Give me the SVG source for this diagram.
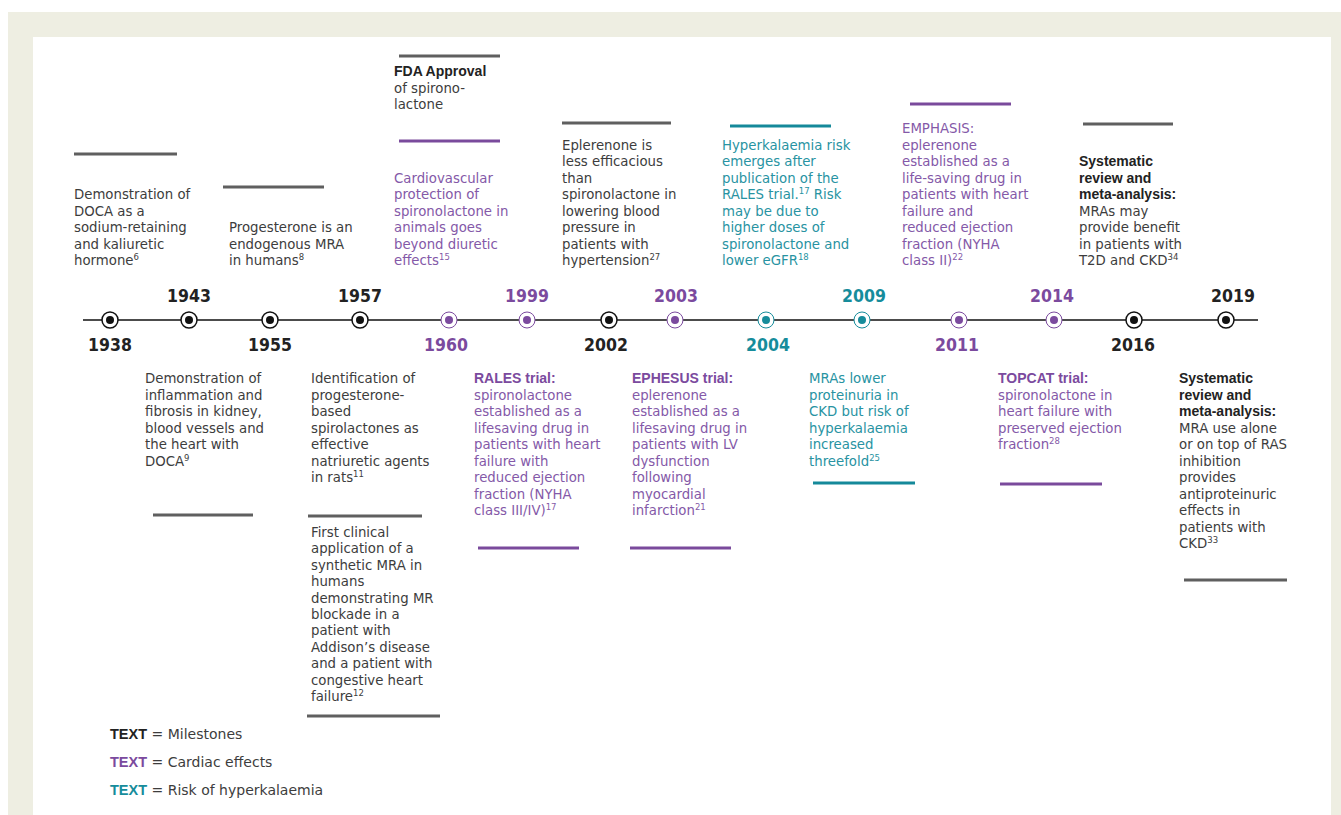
<svg xmlns="http://www.w3.org/2000/svg" width="1341" height="815" viewBox="0 0 1341 815">
<style>
.tx{font-family:"DejaVu Sans","Noto Sans",sans-serif;font-size:13.3px}
.g{fill:#3d3d3d}.p{fill:#8459a8}.c{fill:#2893a2}
.b{font-family:"Liberation Sans",Arial,sans-serif;font-weight:bold;font-size:14px}
.s{font-size:8.5px}
.yr{font-family:"DejaVu Sans Condensed","DejaVu Sans",sans-serif;font-stretch:condensed;font-weight:bold;font-size:17.5px;text-anchor:middle}
.yk{fill:#222}.yp{fill:#7b4a9e}.yc{fill:#168c9b}
.bar{stroke-width:3;fill:none}
.bg{stroke:#5f5f5f}.bp{stroke:#7a4a9c}.bc{stroke:#15899a}
.rk{fill:#fff;stroke:#111;stroke-width:1.5}.rp{fill:#fff;stroke:#7b4a9e;stroke-width:1}.rc{fill:#fff;stroke:#168c9b;stroke-width:1}
.dk{fill:#111}.dp{fill:#7b4a9e}.dc{fill:#168c9b}
.lg{font-family:"DejaVu Sans",sans-serif;font-size:14px;fill:#3d3d3d}
.lb{font-family:"Liberation Sans",Arial,sans-serif;font-weight:bold;font-size:14.5px}
</style>
<rect x="0" y="0" width="1341" height="815" fill="#fff"/>
<rect x="8" y="12" width="1333" height="803" fill="#eeeee2"/>
<rect x="33" y="37" width="1298" height="778" fill="#fff"/>

<g id="connectors">
<line x1="83" y1="320" x2="1258" y2="320" stroke="#111" stroke-width="1.5"/>
</g>

<g id="n1938"><circle class="rk" cx="110" cy="320" r="8"/><circle class="dk" cx="110" cy="320" r="4"/><text class="yr yk" x="110" y="351">1938</text></g>
<g id="n1943"><circle class="rk" cx="189" cy="320" r="8"/><circle class="dk" cx="189" cy="320" r="4"/><text class="yr yk" x="189" y="302">1943</text></g>
<g id="n1955"><circle class="rk" cx="270" cy="320" r="8"/><circle class="dk" cx="270" cy="320" r="4"/><text class="yr yk" x="270" y="351">1955</text></g>
<g id="n1957"><circle class="rk" cx="360" cy="320" r="8"/><circle class="dk" cx="360" cy="320" r="4"/><text class="yr yk" x="360" y="302">1957</text></g>
<g id="n1960"><circle class="rp" cx="449" cy="320" r="8"/><circle class="dp" cx="449" cy="320" r="4"/><text class="yr yp" x="446" y="351">1960</text></g>
<g id="n1999"><circle class="rp" cx="527" cy="320" r="8"/><circle class="dp" cx="527" cy="320" r="4"/><text class="yr yp" x="527" y="302">1999</text></g>
<g id="n2002"><circle class="rk" cx="609" cy="320" r="8"/><circle class="dk" cx="609" cy="320" r="4"/><text class="yr yk" x="606" y="351">2002</text></g>
<g id="n2003"><circle class="rp" cx="675" cy="320" r="8"/><circle class="dp" cx="675" cy="320" r="4"/><text class="yr yp" x="676" y="302">2003</text></g>
<g id="n2004"><circle class="rc" cx="766" cy="320" r="8"/><circle class="dc" cx="766" cy="320" r="4"/><text class="yr yc" x="768" y="351">2004</text></g>
<g id="n2009"><circle class="rc" cx="862" cy="320" r="8"/><circle class="dc" cx="862" cy="320" r="4"/><text class="yr yc" x="864" y="302">2009</text></g>
<g id="n2011"><circle class="rp" cx="959" cy="320" r="8"/><circle class="dp" cx="959" cy="320" r="4"/><text class="yr yp" x="957" y="351">2011</text></g>
<g id="n2014"><circle class="rp" cx="1054" cy="320" r="8"/><circle class="dp" cx="1054" cy="320" r="4"/><text class="yr yp" x="1052" y="302">2014</text></g>
<g id="n2016"><circle class="rk" cx="1134" cy="320" r="8"/><circle class="dk" cx="1134" cy="320" r="4"/><text class="yr yk" x="1133" y="351">2016</text></g>
<g id="n2019"><circle class="rk" cx="1226" cy="320" r="8"/><circle class="dk" cx="1226" cy="320" r="4"/><text class="yr yk" x="1233" y="302">2019</text></g>

<g id="e1938">
<line class="bar bg" x1="74" y1="154" x2="177" y2="154"/>
<text class="tx g"><tspan x="74" y="199">Demonstration of</tspan><tspan x="74" y="215.5">DOCA as a</tspan><tspan x="74" y="232">sodium-retaining</tspan><tspan x="74" y="248.5">and kaliuretic</tspan><tspan x="74" y="265">hormone<tspan class="s" dy="-5">6</tspan></tspan></text>
</g>
<g id="e1943">
<line class="bar bg" x1="153" y1="515" x2="253" y2="515"/>
<text class="tx g"><tspan x="145" y="383">Demonstration of</tspan><tspan x="145" y="399.5">inflammation and</tspan><tspan x="145" y="416">fibrosis in kidney,</tspan><tspan x="145" y="432.5">blood vessels and</tspan><tspan x="145" y="449">the heart with</tspan><tspan x="145" y="465.5">DOCA<tspan class="s" dy="-5">9</tspan></tspan></text>
</g>
<g id="e1955">
<line class="bar bg" x1="223" y1="187" x2="324" y2="187"/>
<text class="tx g"><tspan x="229" y="232">Progesterone is an</tspan><tspan x="229" y="248.5">endogenous MRA</tspan><tspan x="229" y="265">in humans<tspan class="s" dy="-5">8</tspan></tspan></text>
</g>
<g id="e1957a">
<text class="tx g"><tspan x="311" y="383">Identification of</tspan><tspan x="311" y="399.5">progesterone-</tspan><tspan x="311" y="416">based</tspan><tspan x="311" y="432.5">spirolactones as</tspan><tspan x="311" y="449">effective</tspan><tspan x="311" y="465.5">natriuretic agents</tspan><tspan x="311" y="482">in rats<tspan class="s" dy="-5">11</tspan></tspan></text>
<line class="bar bg" x1="308" y1="516" x2="422" y2="516"/>
</g>
<g id="e1957b">
<text class="tx g"><tspan x="311" y="537">First clinical</tspan><tspan x="311" y="553.4">application of a</tspan><tspan x="311" y="569.8">synthetic MRA in</tspan><tspan x="311" y="586.2">humans</tspan><tspan x="311" y="602.6">demonstrating MR</tspan><tspan x="311" y="619">blockade in a</tspan><tspan x="311" y="635.4">patient with</tspan><tspan x="311" y="651.8">Addison’s disease</tspan><tspan x="311" y="668.2">and a patient with</tspan><tspan x="311" y="684.6">congestive heart</tspan><tspan x="311" y="701">failure<tspan class="s" dy="-5">12</tspan></tspan></text>
<line class="bar bg" x1="307" y1="716" x2="440" y2="716"/>
</g>
<g id="e1960a">
<line class="bar bg" x1="399" y1="56" x2="500" y2="56"/>
<text class="tx g"><tspan x="394" y="76" class="b" style="fill:#222">FDA Approval</tspan><tspan x="394" y="92.5">of spirono-</tspan><tspan x="394" y="109">lactone</tspan></text>
</g>
<g id="e1960b">
<line class="bar bp" x1="399" y1="141" x2="500" y2="141"/>
<text class="tx p"><tspan x="394" y="182.5">Cardiovascular</tspan><tspan x="394" y="199">protection of</tspan><tspan x="394" y="215.5">spironolactone in</tspan><tspan x="394" y="232">animals goes</tspan><tspan x="394" y="248.5">beyond diuretic</tspan><tspan x="394" y="265">effects<tspan class="s" dy="-5">15</tspan></tspan></text>
</g>
<g id="e1999">
<text class="tx p"><tspan x="474" y="383" class="b" style="fill:#7b4a9e">RALES trial:</tspan><tspan x="474" y="399.5">spironolactone</tspan><tspan x="474" y="416">established as a</tspan><tspan x="474" y="432.5">lifesaving drug in</tspan><tspan x="474" y="449">patients with heart</tspan><tspan x="474" y="465.5">failure with</tspan><tspan x="474" y="482">reduced ejection</tspan><tspan x="474" y="498.5">fraction (NYHA</tspan><tspan x="474" y="515">class III/IV)<tspan class="s" dy="-5">17</tspan></tspan></text>
<line class="bar bp" x1="478" y1="548" x2="579" y2="548"/>
</g>
<g id="e2002">
<line class="bar bg" x1="562" y1="123" x2="671" y2="123"/>
<text class="tx g"><tspan x="562" y="149.5">Eplerenone is</tspan><tspan x="562" y="166">less efficacious</tspan><tspan x="562" y="182.5">than</tspan><tspan x="562" y="199">spironolactone in</tspan><tspan x="562" y="215.5">lowering blood</tspan><tspan x="562" y="232">pressure in</tspan><tspan x="562" y="248.5">patients with</tspan><tspan x="562" y="265">hypertension<tspan class="s" dy="-5">27</tspan></tspan></text>
</g>
<g id="e2003">
<text class="tx p"><tspan x="632" y="383" class="b" style="fill:#7b4a9e">EPHESUS trial:</tspan><tspan x="632" y="399.5">eplerenone</tspan><tspan x="632" y="416">established as a</tspan><tspan x="632" y="432.5">lifesaving drug in</tspan><tspan x="632" y="449">patients with LV</tspan><tspan x="632" y="465.5">dysfunction</tspan><tspan x="632" y="482">following</tspan><tspan x="632" y="498.5">myocardial</tspan><tspan x="632" y="515">infarction<tspan class="s" dy="-5">21</tspan></tspan></text>
<line class="bar bp" x1="630" y1="548" x2="731" y2="548"/>
</g>
<g id="e2004">
<line class="bar bc" x1="730" y1="126" x2="831" y2="126"/>
<text class="tx c"><tspan x="722" y="149.5">Hyperkalaemia risk</tspan><tspan x="722" y="166">emerges after</tspan><tspan x="722" y="182.5">publication of the</tspan><tspan x="722" y="199">RALES trial.<tspan class="s" dy="-5">17</tspan><tspan dy="5"> Risk</tspan></tspan><tspan x="722" y="215.5">may be due to</tspan><tspan x="722" y="232">higher doses of</tspan><tspan x="722" y="248.5">spironolactone and</tspan><tspan x="722" y="265">lower eGFR<tspan class="s" dy="-5">18</tspan></tspan></text>
</g>
<g id="e2009">
<text class="tx c"><tspan x="809" y="383">MRAs lower</tspan><tspan x="809" y="399.5">proteinuria in</tspan><tspan x="809" y="416">CKD but risk of</tspan><tspan x="809" y="432.5">hyperkalaemia</tspan><tspan x="809" y="449">increased</tspan><tspan x="809" y="465.5">threefold<tspan class="s" dy="-5">25</tspan></tspan></text>
<line class="bar bc" x1="813" y1="483" x2="915" y2="483"/>
</g>
<g id="e2011">
<line class="bar bp" x1="910" y1="104" x2="1011" y2="104"/>
<text class="tx p"><tspan x="902" y="133">EMPHASIS:</tspan><tspan x="902" y="149.5">eplerenone</tspan><tspan x="902" y="166">established as a</tspan><tspan x="902" y="182.5">life-saving drug in</tspan><tspan x="902" y="199">patients with heart</tspan><tspan x="902" y="215.5">failure and</tspan><tspan x="902" y="232">reduced ejection</tspan><tspan x="902" y="248.5">fraction (NYHA</tspan><tspan x="902" y="265">class II)<tspan class="s" dy="-5">22</tspan></tspan></text>
</g>
<g id="e2014">
<text class="tx p"><tspan x="998" y="383" class="b" style="fill:#7b4a9e">TOPCAT trial:</tspan><tspan x="998" y="399.5">spironolactone in</tspan><tspan x="998" y="416">heart failure with</tspan><tspan x="998" y="432.5">preserved ejection</tspan><tspan x="998" y="449">fraction<tspan class="s" dy="-5">28</tspan></tspan></text>
<line class="bar bp" x1="1000" y1="484" x2="1102" y2="484"/>
</g>
<g id="e2016">
<line class="bar bg" x1="1083" y1="124" x2="1173" y2="124"/>
<text class="tx g"><tspan x="1079" y="166" class="b" style="fill:#222">Systematic</tspan><tspan x="1079" y="182.5" class="b" style="fill:#222">review and</tspan><tspan x="1079" y="199" class="b" style="fill:#222">meta-analysis:</tspan><tspan x="1079" y="215.5">MRAs may</tspan><tspan x="1079" y="232">provide benefit</tspan><tspan x="1079" y="248.5">in patients with</tspan><tspan x="1079" y="265">T2D and CKD<tspan class="s" dy="-5">34</tspan></tspan></text>
</g>
<g id="e2019">
<text class="tx g"><tspan x="1179" y="383" class="b" style="fill:#222">Systematic</tspan><tspan x="1179" y="399.5" class="b" style="fill:#222">review and</tspan><tspan x="1179" y="416" class="b" style="fill:#222">meta-analysis:</tspan><tspan x="1179" y="432.5">MRA use alone</tspan><tspan x="1179" y="449">or on top of RAS</tspan><tspan x="1179" y="465.5">inhibition</tspan><tspan x="1179" y="482">provides</tspan><tspan x="1179" y="498.5">antiproteinuric</tspan><tspan x="1179" y="515">effects in</tspan><tspan x="1179" y="531.5">patients with</tspan><tspan x="1179" y="548">CKD<tspan class="s" dy="-5">33</tspan></tspan></text>
<line class="bar bg" x1="1184" y1="580" x2="1287" y2="580"/>
</g>

<g id="legend">
<text class="lg" x="110" y="739"><tspan class="lb" style="fill:#222">TEXT</tspan> = Milestones</text>
<text class="lg" x="110" y="767"><tspan class="lb" style="fill:#7b4a9e">TEXT</tspan> = Cardiac effects</text>
<text class="lg" x="110" y="795"><tspan class="lb" style="fill:#168c9b">TEXT</tspan> = Risk of hyperkalaemia</text>
</g>
</svg>
